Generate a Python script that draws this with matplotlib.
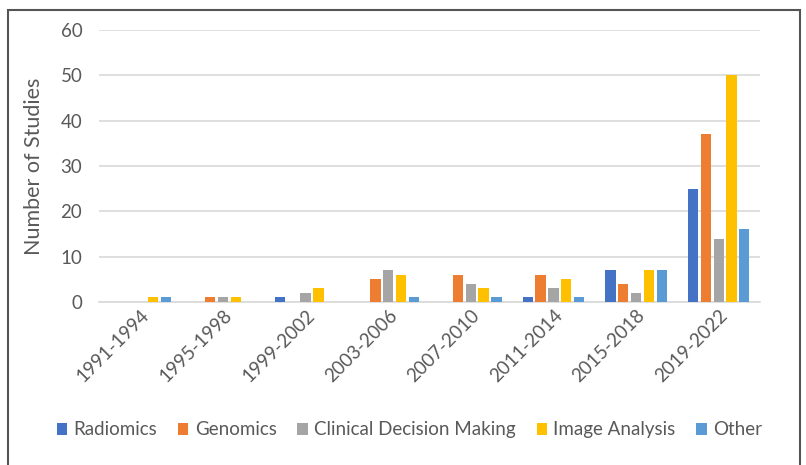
import numpy as np
import matplotlib
matplotlib.use("Agg")
import matplotlib.pyplot as plt
from matplotlib.patches import Rectangle

periods = ["1991-1994", "1995-1998", "1999-2002", "2003-2006",
           "2007-2010", "2011-2014", "2015-2018", "2019-2022"]
radiomics = [0, 0, 1, 0, 0, 1, 7, 25]
genomics = [0, 1, 0, 5, 6, 6, 4, 37]
clinical = [0, 1, 2, 7, 4, 3, 2, 14]
image_analysis = [1, 1, 3, 6, 3, 5, 7, 50]
other = [1, 0, 0, 1, 1, 1, 7, 16]

series = [
    ("Radiomics", radiomics, "#4472C4"),
    ("Genomics", genomics, "#ED7D31"),
    ("Clinical Decision Making", clinical, "#A5A5A5"),
    ("Image Analysis", image_analysis, "#FFC000"),
    ("Other", other, "#5B9BD5"),
]

plt.rcParams["font.family"] = ["Lato", "DejaVu Sans"]

fig = plt.figure(figsize=(8.06, 4.65), dpi=100)
ax = fig.add_axes([99 / 806, 1 - 302 / 465, 661 / 806, 272 / 465])

x = np.arange(len(periods))
step = 0.155
width = 0.125
for i, (name, vals, color) in enumerate(series):
    ax.bar(x + (i - 2) * step, vals, width, color=color, label=name, zorder=3)

ax.set_xlim(-0.5, len(periods) - 0.5)
ax.set_ylim(0, 60)
ax.set_yticks(range(0, 61, 10))
ax.grid(axis="y", color="#d9d9d9", lw=1.2, zorder=0)
for s in ["top", "right", "left"]:
    ax.spines[s].set_visible(False)
ax.spines["bottom"].set_color("#d9d9d9")
ax.spines["bottom"].set_linewidth(1.2)
ax.tick_params(length=0, colors="#595959", labelsize=13.5)
ax.tick_params(axis="y", pad=12)
ax.set_xticks(x)
ax.set_xticklabels(periods, rotation=45, ha="right", rotation_mode="anchor")
ax.set_ylabel("Number of Studies", fontsize=15.5, color="#595959", labelpad=12)

ax.legend(loc="center", bbox_to_anchor=(0.5 - 20 / 661, -0.47), ncol=5, frameon=False,
          fontsize=13.5, labelcolor="#595959", handlelength=0.55, handleheight=0.6,
          handletextpad=0.35, columnspacing=1.1)

fig.patches.append(Rectangle((8 / 806, -0.01), 792 / 806, 1 - 10 / 465 + 0.01,
                             transform=fig.transFigure, fill=False,
                             edgecolor="#555555", lw=1.5))

fig.savefig("out.png", dpi=100)
